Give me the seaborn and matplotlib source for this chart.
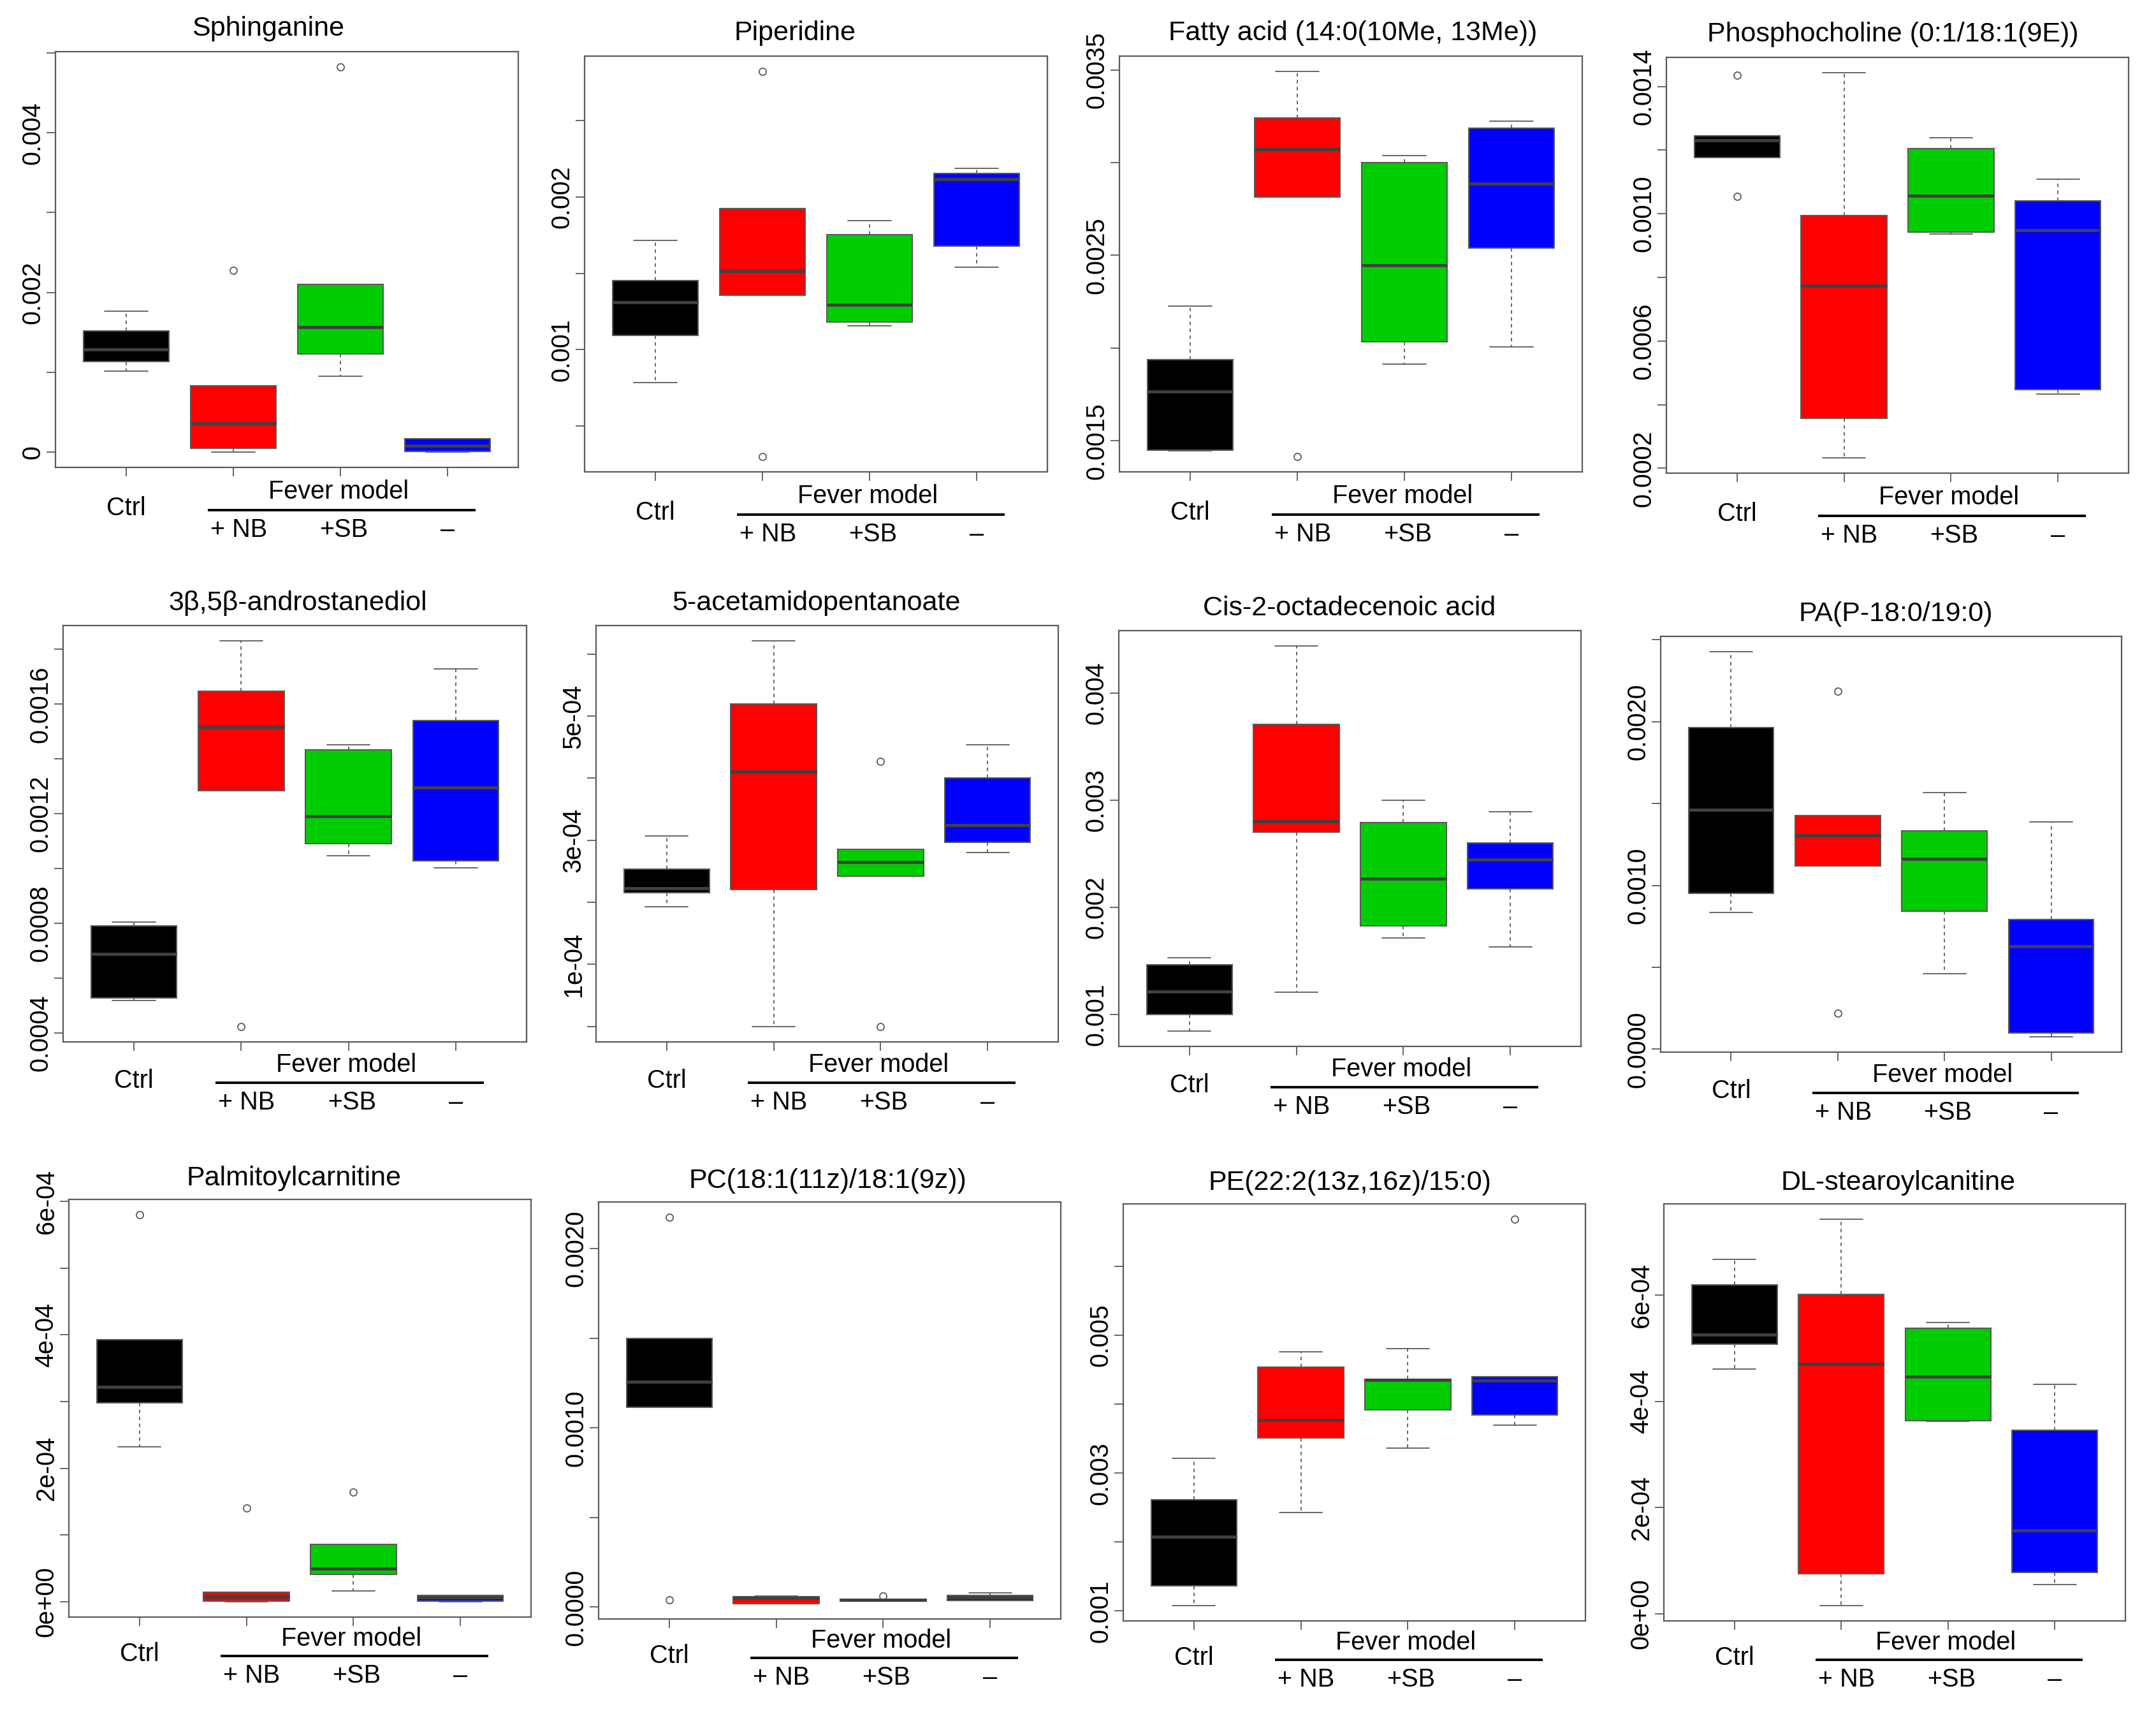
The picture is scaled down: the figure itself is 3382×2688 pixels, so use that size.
import numpy as np
import pandas as pd
import matplotlib
matplotlib.use("Agg")
import matplotlib.pyplot as plt
import matplotlib.transforms as mtransforms
import seaborn as sns

# ---------------- data (5 values per group) ----------------
groups = ["Ctrl", "NB", "SB", "Minus"]
group_labels = ["Ctrl", "+ NB", "+SB", "\u2013"]
fever_label = "Fever model"

titles = [
    "Sphinganine", "Piperidine", "Fatty acid (14:0(10Me, 13Me))", "Phosphocholine (0:1/18:1(9E))",
    "3\u03b2,5\u03b2-androstanediol", "5-acetamidopentanoate", "Cis-2-octadecenoic acid", "PA(P-18:0/19:0)",
    "Palmitoylcarnitine", "PC(18:1(11z)/18:1(9z))", "PE(22:2(13z,16z)/15:0)", "DL-stearoylcanitine",
]

sphinganine = [[0.001015, 0.001136, 0.001285, 0.00152, 0.001768],
               [0.0, 0.000045, 0.000361, 0.00083, 0.002273],
               [0.000947, 0.001227, 0.001565, 0.002101, 0.004825],
               [0.0, 0.000005, 0.00008, 0.00017, 0.00017]]
piperidine = [[0.000785, 0.001094, 0.001311, 0.001453, 0.001717],
              [0.0003, 0.001358, 0.001517, 0.001927, 0.002823],
              [0.001158, 0.001182, 0.001295, 0.001755, 0.001847],
              [0.00154, 0.001679, 0.002116, 0.002156, 0.002189]]
fatty_acid = [[0.001445, 0.001448, 0.001764, 0.001939, 0.002228],
              [0.001415, 0.002815, 0.003073, 0.003242, 0.003492],
              [0.001912, 0.002034, 0.002448, 0.002999, 0.003038],
              [0.002007, 0.002541, 0.002886, 0.003187, 0.003224]]
phosphocholine = [[0.001055, 0.001176, 0.00123, 0.001244, 0.001436],
                  [0.000233, 0.000356, 0.000774, 0.000995, 0.001443],
                  [0.000936, 0.000943, 0.001057, 0.001205, 0.001239],
                  [0.000434, 0.000447, 0.000949, 0.001041, 0.001108]]
androstanediol = [[0.000518, 0.000528, 0.000687, 0.000791, 0.000804],
                  [0.000423, 0.001284, 0.001517, 0.001648, 0.001831],
                  [0.001046, 0.00109, 0.00119, 0.001433, 0.001452],
                  [0.001003, 0.001027, 0.001295, 0.001541, 0.001729]]
acetamidopentanoate = [[0.000193, 0.000215, 0.000223, 0.000253, 0.000307],
                       [0.0, 0.000221, 0.000411, 0.000519, 0.000621],
                       [0.0, 0.000242, 0.000265, 0.000285, 0.000427],
                       [0.00028, 0.000297, 0.000324, 0.0004, 0.000454]]
octadecenoic = [[0.000845, 0.001, 0.001213, 0.001464, 0.00153],
                [0.00121, 0.0027, 0.002803, 0.00371, 0.00444],
                [0.001712, 0.001829, 0.002266, 0.002792, 0.002999],
                [0.00163, 0.00217, 0.002445, 0.002603, 0.002892]]
pa = [[0.000836, 0.000953, 0.001461, 0.001966, 0.002427],
      [0.000218, 0.001119, 0.001308, 0.001425, 0.002187],
      [0.000461, 0.000843, 0.001162, 0.001335, 0.001566],
      [0.0000764, 0.0000989, 0.000629, 0.000793, 0.001389]]
palmitoylcarnitine = [[0.0002325, 0.000298, 0.000322, 0.000393, 0.00058],
                      [0.0, 0.0000011, 0.0000072, 0.0000138, 0.00014],
                      [0.000016, 0.000041, 0.0000498, 0.0000863, 0.0001638],
                      [0.0, 0.0000011, 0.0000061, 0.0000094, 0.0000094]]
pc = [[0.000041, 0.001114, 0.001257, 0.0015, 0.002174],
      [0.00002, 0.0000205, 0.0000513, 0.0000574, 0.0000636],
      [0.000033, 0.000034, 0.000039, 0.000043, 0.000062],
      [0.0000369, 0.0000369, 0.0000533, 0.0000656, 0.000078]]
pe = [[0.00108, 0.001368, 0.002078, 0.002612, 0.003216],
      [0.002426, 0.003515, 0.003771, 0.004534, 0.004759],
      [0.00336, 0.00392, 0.004348, 0.004358, 0.004801],
      [0.003691, 0.00384, 0.004342, 0.004401, 0.006681]]
stearoylcanitine = [[0.000461, 0.000508, 0.000526, 0.000619, 0.000667],
                    [0.0000153, 0.0000749, 0.00047, 0.000601, 0.000743],
                    [0.000362, 0.000364, 0.000446, 0.000538, 0.000549],
                    [0.0000541, 0.0000777, 0.000157, 0.000346, 0.000432]]

panel_data = [sphinganine, piperidine, fatty_acid, phosphocholine,
              androstanediol, acetamidopentanoate, octadecenoic, pa,
              palmitoylcarnitine, pc, pe, stearoylcanitine]

ytick_values = [
    [0, 0.001, 0.002, 0.003, 0.004, 0.005],
    [0.0005, 0.001, 0.0015, 0.002, 0.0025],
    [0.0015, 0.002, 0.0025, 0.003, 0.0035],
    [0.0002, 0.0004, 0.0006, 0.0008, 0.0010, 0.0012, 0.0014],
    [0.0004, 0.0006, 0.0008, 0.0010, 0.0012, 0.0014, 0.0016, 0.0018],
    [0, 0.0001, 0.0002, 0.0003, 0.0004, 0.0005, 0.0006],
    [0.001, 0.002, 0.003, 0.004],
    [0, 0.0005, 0.001, 0.0015, 0.002, 0.0025],
    [0, 0.0001, 0.0002, 0.0003, 0.0004, 0.0005, 0.0006],
    [0, 0.0005, 0.001, 0.0015, 0.002],
    [0.001, 0.002, 0.003, 0.004, 0.005, 0.006],
    [0, 0.0002, 0.0004, 0.0006],
]
ytick_labels = [
    ["0", "", "0.002", "", "0.004", ""],
    ["", "0.001", "", "0.002", ""],
    ["0.0015", "", "0.0025", "", "0.0035"],
    ["0.0002", "", "0.0006", "", "0.0010", "", "0.0014"],
    ["0.0004", "", "0.0008", "", "0.0012", "", "0.0016", ""],
    ["", "1e-04", "", "3e-04", "", "5e-04", ""],
    ["0.001", "0.002", "0.003", "0.004"],
    ["0.0000", "", "0.0010", "", "0.0020", ""],
    ["0e+00", "", "2e-04", "", "4e-04", "", "6e-04"],
    ["0.0000", "", "0.0010", "", "0.0020"],
    ["0.001", "", "0.003", "", "0.005", ""],
    ["0e+00", "2e-04", "4e-04", "6e-04"],
]

# ---------------- layout / style ----------------
W, H = 3382, 2688
box_colors = ["#000000", "#FF0000", "#00CD00", "#0000FF"]
EDGE = "#5A5A5A"
MED = "#404040"

# axes rectangles in pixels: left, top, right, bottom
rects = [
    (87, 81, 813, 733), (917, 88, 1643, 740), (1756, 88, 2482, 740), (2614, 90, 3339, 742),
    (99, 981, 826, 1634), (935, 981, 1660, 1634), (1755, 989, 2480, 1641), (2605, 998, 3328, 1650),
    (108, 1881, 833, 2536), (939, 1885, 1664, 2539), (1762, 1888, 2487, 2542), (2610, 1888, 3334, 2542),
]
title_x = [0.46, 0.455, 0.504, 0.49, 0.506, 0.476, 0.499, 0.51, 0.487, 0.495, 0.49, 0.507]
# per-row pixel offsets: title above, and fever / ctrl / line / sub-labels below the axes
row_offsets = [
    dict(title=36, fever=38, ctrl=64, line=67, sub=98),
    dict(title=35, fever=36, ctrl=61, line=64, sub=95),
    dict(title=33, fever=34, ctrl=58, line=61, sub=92),
]

sns.set_theme(style="white")
plt.rcParams["font.family"] = ["Liberation Sans", "DejaVu Sans"]
plt.rcParams["text.color"] = "black"

fig = plt.figure(figsize=(W / 100, H / 100), dpi=100)
fig.patch.set_facecolor("white")

for i, (rect, data) in enumerate(zip(rects, panel_data)):
    L, T, R, B = rect
    off = row_offsets[i // 4]
    ax = fig.add_axes([L / W, 1 - B / H, (R - L) / W, (B - T) / H])
    df = pd.DataFrame({
        "group": np.repeat(groups, [len(v) for v in data]),
        "value": np.concatenate(data),
    })
    sns.boxplot(
        data=df, x="group", y="value", hue="group", order=groups, hue_order=groups,
        palette=dict(zip(groups, box_colors)), saturation=1, width=0.8, whis=1.5,
        linecolor=EDGE, linewidth=1.5, legend=False, ax=ax, fliersize=8,
        medianprops=dict(color=MED, linewidth=3.5, solid_capstyle="butt"),
        whiskerprops=dict(linestyle=(0, (3, 3)), color=EDGE, linewidth=1.3),
        capprops=dict(color=EDGE, linewidth=1.3),
        flierprops=dict(marker="o", markerfacecolor="none", markeredgecolor=EDGE,
                        markersize=8, markeredgewidth=1.3),
    )
    vals = df["value"].to_numpy()
    lo, hi = vals.min(), vals.max()
    pad = 0.04 * (hi - lo)
    ax.set_ylim(lo - pad, hi + pad)
    ax.set_xlim(-0.66, 3.66)
    ax.set_xlabel("")
    ax.set_ylabel("")
    ax.set_xticks(range(4))
    ax.set_xticklabels([])
    ax.set_yticks(ytick_values[i])
    ax.set_yticklabels(ytick_labels[i], rotation=90, va="center", ha="center",
                       fontsize=28.5, color="black")
    ax.tick_params(axis="both", direction="out", length=10, width=1.3, color=EDGE,
                   left=True, bottom=True)
    ax.tick_params(axis="y", pad=15.5)
    for sp in ax.spines.values():
        sp.set_visible(True)
        sp.set_color(EDGE)
        sp.set_linewidth(1.6)
    ax.set_facecolor("white")

    # title
    ax.text(title_x[i], 1, titles[i], ha="center", va="center", fontsize=31,
            transform=mtransforms.offset_copy(ax.transAxes, fig=fig, y=off["title"], units="dots"))

    # group labels under the axis
    trans = mtransforms.blended_transform_factory(ax.transData, ax.transAxes)

    def put(txt, x, dy):
        ax.text(x, 0, txt, ha="center", va="center", fontsize=28.5, clip_on=False,
                transform=mtransforms.offset_copy(trans, fig=fig, y=-dy, units="dots"))

    put(group_labels[0], 0.0, off["ctrl"])
    put(fever_label, 1.98, off["fever"])
    put(group_labels[1], 1.05, off["sub"])
    put(group_labels[2], 2.03, off["sub"])
    put(group_labels[3], 3.0, off["sub"])
    ax.plot([0.76, 3.26], [0, 0], color="black", lw=2.8, solid_capstyle="butt", clip_on=False,
            transform=mtransforms.offset_copy(trans, fig=fig, y=-off["line"], units="dots"))

fig.savefig("out.png", dpi=100, facecolor="white")
